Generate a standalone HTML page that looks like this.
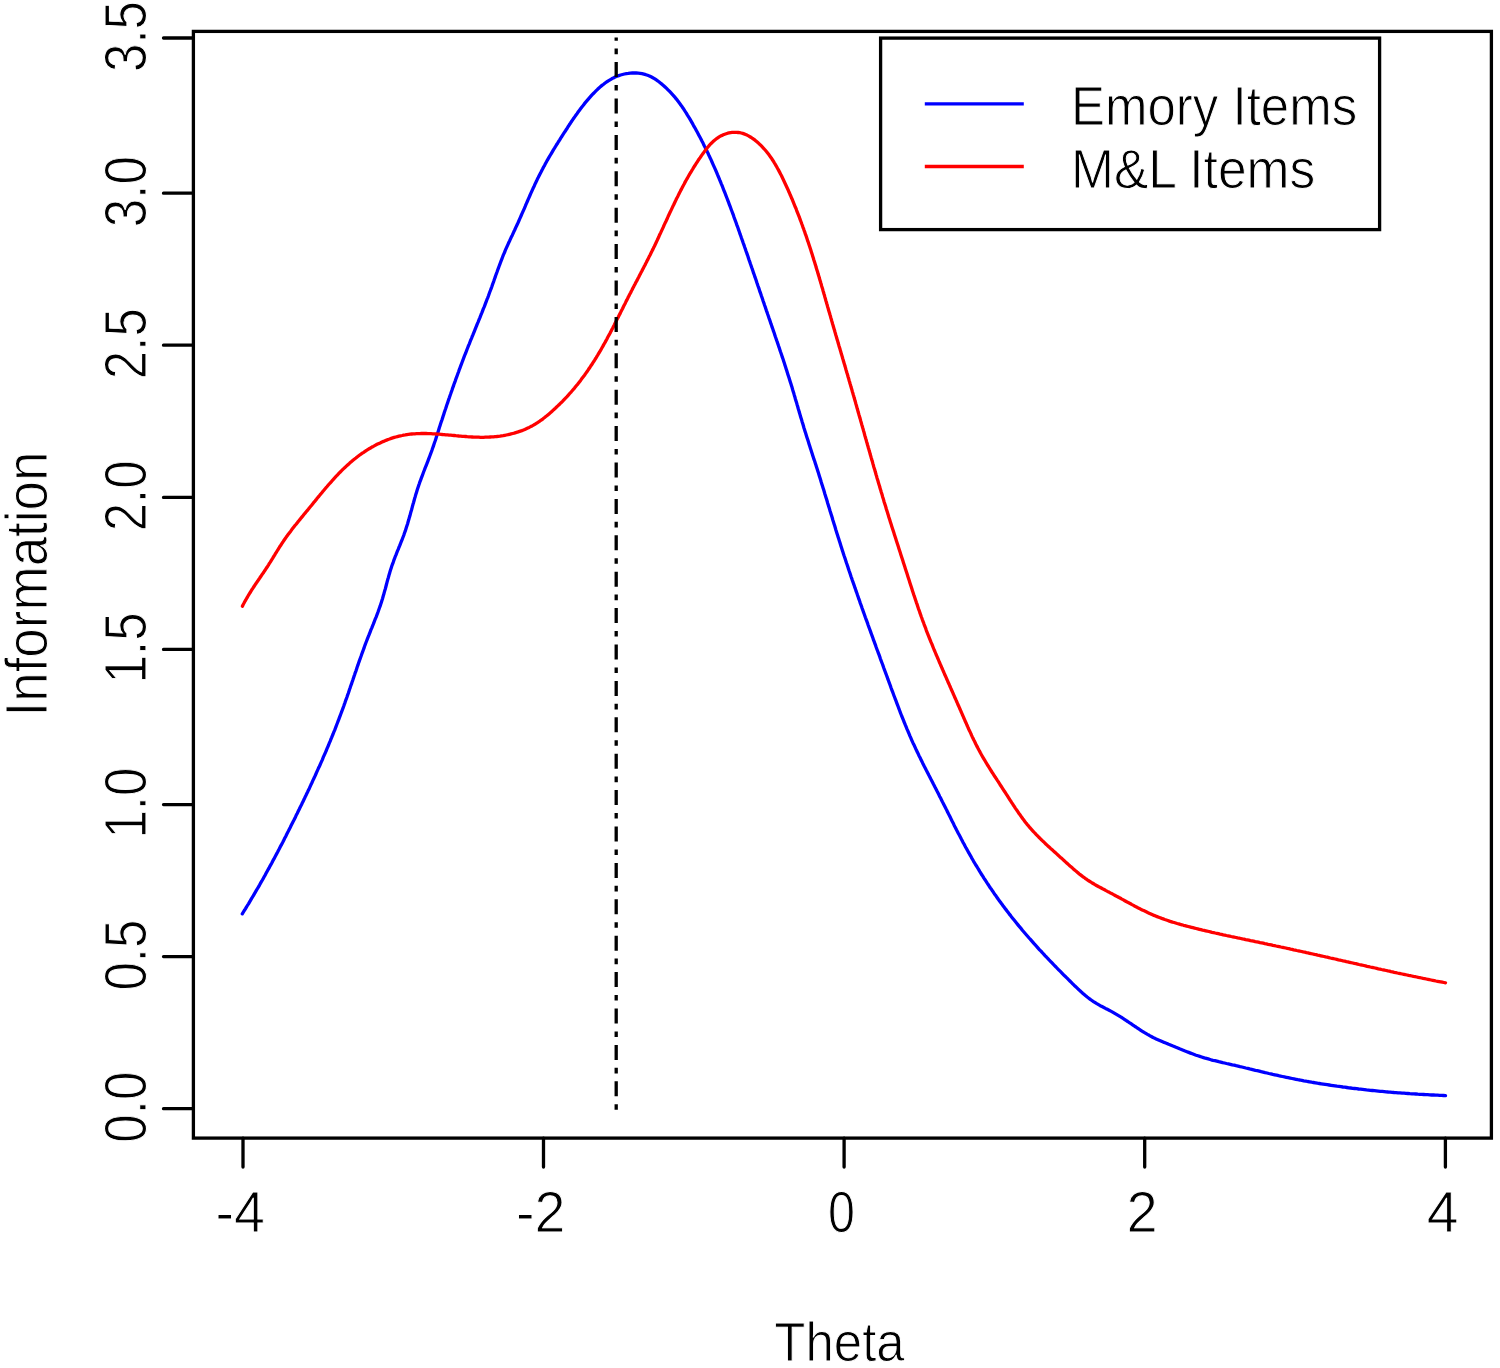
<!DOCTYPE html>
<html><head><meta charset="utf-8"><title>Information</title>
<style>
html,body{margin:0;padding:0;background:#fff;}
body{width:1500px;height:1368px;overflow:hidden;}
svg{display:block;}
text{font-family:"Liberation Sans",Arial,sans-serif;font-size:51px;fill:#000;stroke:#fff;stroke-width:0.9px;}
</style></head>
<body>
<svg width="1500" height="1368" viewBox="0 0 1500 1368">
<rect x="0" y="0" width="1500" height="1368" fill="#fff"/>
<g fill="none" stroke-linejoin="round" stroke-linecap="round">
<polyline points="242.3,913.8 243.3,912.2 244.3,910.5 245.4,908.8 246.4,907.1 247.4,905.5 248.5,903.8 249.5,902.1 250.5,900.4 251.5,898.7 252.5,897.0 253.5,895.3 254.5,893.6 255.5,891.9 256.5,890.2 257.5,888.5 258.5,886.8 259.5,885.1 260.4,883.4 261.4,881.7 262.4,880.0 263.4,878.2 264.3,876.5 265.3,874.8 266.2,873.1 267.2,871.3 268.1,869.6 269.1,867.9 270.0,866.1 271.0,864.4 271.9,862.7 272.8,860.9 273.8,859.2 274.7,857.4 275.6,855.7 276.6,853.9 277.5,852.2 278.4,850.4 279.3,848.7 280.2,846.9 281.2,845.2 282.1,843.4 283.0,841.7 283.9,839.9 284.8,838.1 285.7,836.4 286.6,834.6 287.5,832.8 288.4,831.1 289.3,829.3 290.2,827.5 291.0,825.8 291.9,824.0 292.8,822.2 293.7,820.5 294.6,818.7 295.5,816.9 296.3,815.1 297.2,813.4 298.1,811.6 299.0,809.8 299.8,808.0 300.7,806.2 301.6,804.5 302.4,802.7 303.3,800.9 304.2,799.1 305.0,797.3 305.9,795.5 306.7,793.8 307.6,792.0 308.4,790.2 309.3,788.4 310.1,786.6 310.9,784.8 311.8,783.0 312.6,781.2 313.4,779.4 314.3,777.6 315.1,775.8 315.9,774.0 316.7,772.2 317.5,770.4 318.3,768.6 319.2,766.8 320.0,765.0 320.8,763.2 321.6,761.4 322.4,759.6 323.1,757.7 323.9,755.9 324.7,754.1 325.5,752.3 326.3,750.5 327.0,748.7 327.8,746.8 328.6,745.0 329.3,743.2 330.1,741.4 330.8,739.5 331.6,737.7 332.3,735.9 333.1,734.0 333.8,732.2 334.6,730.4 335.3,728.5 336.0,726.7 336.7,724.8 337.4,723.0 338.1,721.1 338.8,719.3 339.5,717.4 340.2,715.6 340.9,713.7 341.6,711.9 342.3,710.0 343.0,708.2 343.7,706.3 344.3,704.4 345.0,702.6 345.6,700.7 346.3,698.9 347.0,697.0 347.6,695.1 348.3,693.2 348.9,691.4 349.5,689.5 350.2,687.6 350.8,685.8 351.5,683.9 352.1,682.0 352.8,680.1 353.4,678.3 354.0,676.4 354.7,674.5 355.3,672.6 356.0,670.8 356.6,668.9 357.2,667.0 357.9,665.2 358.5,663.3 359.2,661.4 359.8,659.6 360.5,657.7 361.2,655.8 361.8,654.0 362.5,652.1 363.2,650.2 363.9,648.4 364.5,646.5 365.2,644.7 365.9,642.8 366.6,641.0 367.3,639.1 368.0,637.3 368.8,635.4 369.5,633.6 370.2,631.8 370.9,629.9 371.7,628.1 372.4,626.3 373.2,624.4 373.9,622.6 374.6,620.7 375.3,618.9 376.1,617.1 376.8,615.2 377.5,613.4 378.2,611.5 378.8,609.7 379.5,607.8 380.2,605.9 380.8,604.1 381.4,602.2 382.0,600.3 382.6,598.4 383.1,596.5 383.7,594.6 384.2,592.7 384.7,590.8 385.3,588.9 385.8,587.0 386.3,585.0 386.8,583.1 387.3,581.2 387.8,579.3 388.4,577.4 388.9,575.5 389.5,573.6 390.0,571.7 390.6,569.8 391.2,567.9 391.8,566.0 392.5,564.1 393.2,562.3 393.8,560.4 394.5,558.6 395.2,556.7 396.0,554.9 396.7,553.0 397.4,551.2 398.2,549.4 398.9,547.5 399.7,545.7 400.4,543.9 401.1,542.0 401.9,540.2 402.6,538.3 403.3,536.5 404.0,534.6 404.6,532.8 405.3,530.9 405.9,529.0 406.5,527.1 407.1,525.3 407.7,523.4 408.2,521.5 408.8,519.6 409.3,517.7 409.9,515.8 410.4,513.9 410.9,511.9 411.5,510.0 412.0,508.1 412.5,506.2 413.0,504.3 413.6,502.4 414.1,500.5 414.6,498.6 415.2,496.7 415.7,494.8 416.3,492.9 416.9,491.0 417.5,489.1 418.1,487.2 418.7,485.4 419.4,483.5 420.0,481.6 420.7,479.8 421.4,477.9 422.1,476.1 422.8,474.2 423.5,472.3 424.2,470.5 424.9,468.7 425.6,466.8 426.4,465.0 427.1,463.1 427.8,461.3 428.5,459.4 429.2,457.6 429.9,455.7 430.6,453.9 431.3,452.0 432.0,450.1 432.6,448.3 433.3,446.4 433.9,444.5 434.5,442.7 435.2,440.8 435.8,438.9 436.4,437.0 437.0,435.1 437.6,433.3 438.2,431.4 438.8,429.5 439.4,427.6 440.0,425.7 440.6,423.8 441.2,421.9 441.9,420.1 442.5,418.2 443.1,416.3 443.7,414.4 444.3,412.6 444.9,410.7 445.6,408.8 446.2,406.9 446.8,405.0 447.5,403.2 448.1,401.3 448.7,399.4 449.4,397.6 450.0,395.7 450.7,393.8 451.3,392.0 452.0,390.1 452.6,388.2 453.3,386.4 453.9,384.5 454.6,382.6 455.3,380.8 455.9,378.9 456.6,377.1 457.3,375.2 458.0,373.3 458.7,371.5 459.3,369.6 460.0,367.8 460.7,365.9 461.4,364.1 462.1,362.2 462.8,360.4 463.5,358.5 464.2,356.7 464.9,354.8 465.7,353.0 466.4,351.2 467.1,349.3 467.8,347.5 468.5,345.6 469.3,343.8 470.0,342.0 470.7,340.1 471.5,338.3 472.2,336.5 473.0,334.6 473.7,332.8 474.5,331.0 475.2,329.1 475.9,327.3 476.7,325.5 477.4,323.6 478.2,321.8 478.9,320.0 479.7,318.1 480.4,316.3 481.1,314.5 481.9,312.6 482.6,310.8 483.3,308.9 484.1,307.1 484.8,305.3 485.5,303.4 486.2,301.6 486.9,299.7 487.7,297.9 488.4,296.0 489.0,294.2 489.7,292.3 490.4,290.5 491.1,288.6 491.8,286.7 492.4,284.9 493.1,283.0 493.8,281.1 494.4,279.3 495.1,277.4 495.7,275.5 496.4,273.7 497.1,271.8 497.7,270.0 498.4,268.1 499.1,266.2 499.8,264.4 500.5,262.5 501.2,260.7 501.9,258.9 502.6,257.0 503.3,255.2 504.1,253.4 504.9,251.5 505.6,249.7 506.4,247.9 507.2,246.1 508.0,244.3 508.8,242.5 509.7,240.7 510.5,238.9 511.3,237.1 512.2,235.4 513.0,233.6 513.8,231.8 514.7,230.0 515.5,228.2 516.3,226.4 517.2,224.6 518.0,222.8 518.8,221.0 519.6,219.2 520.4,217.4 521.2,215.5 522.0,213.7 522.8,211.9 523.6,210.1 524.4,208.3 525.2,206.4 525.9,204.6 526.7,202.8 527.5,201.0 528.3,199.2 529.1,197.3 529.9,195.5 530.7,193.7 531.5,191.9 532.3,190.1 533.1,188.3 534.0,186.5 534.8,184.7 535.6,182.9 536.5,181.1 537.3,179.3 538.2,177.6 539.1,175.8 540.0,174.0 540.9,172.3 541.8,170.5 542.7,168.8 543.6,167.0 544.6,165.3 545.5,163.6 546.5,161.8 547.4,160.1 548.4,158.4 549.4,156.7 550.4,155.0 551.4,153.3 552.4,151.6 553.4,149.9 554.5,148.2 555.5,146.5 556.5,144.8 557.6,143.2 558.6,141.5 559.7,139.8 560.7,138.1 561.8,136.5 562.8,134.8 563.9,133.1 565.0,131.5 566.1,129.8 567.2,128.2 568.2,126.5 569.3,124.8 570.4,123.2 571.5,121.5 572.6,119.9 573.7,118.3 574.9,116.6 576.0,115.0 577.2,113.4 578.3,111.8 579.5,110.2 580.7,108.6 581.9,107.0 583.1,105.5 584.3,103.9 585.5,102.4 586.8,100.9 588.1,99.4 589.4,97.9 590.7,96.4 592.0,94.9 593.4,93.5 594.8,92.1 596.2,90.7 597.6,89.3 599.0,88.0 600.5,86.6 602.0,85.4 603.6,84.2 605.1,83.0 606.7,81.9 608.3,80.8 610.0,79.8 611.7,78.8 613.4,77.9 615.1,77.1 616.9,76.3 618.8,75.6 620.6,75.0 622.5,74.5 624.4,74.0 626.4,73.6 628.3,73.4 630.3,73.1 632.3,73.0 634.3,73.0 636.2,73.0 638.2,73.2 640.1,73.4 642.0,73.7 643.9,74.2 645.8,74.7 647.6,75.3 649.4,76.0 651.1,76.8 652.8,77.7 654.4,78.6 656.0,79.7 657.6,80.8 659.2,82.0 660.7,83.2 662.2,84.4 663.7,85.7 665.1,87.0 666.6,88.4 668.0,89.8 669.4,91.2 670.8,92.7 672.1,94.1 673.5,95.6 674.8,97.1 676.0,98.7 677.3,100.2 678.5,101.8 679.7,103.4 680.8,105.0 682.0,106.6 683.1,108.2 684.2,109.9 685.2,111.5 686.3,113.2 687.3,114.9 688.4,116.6 689.4,118.2 690.4,119.9 691.4,121.6 692.4,123.4 693.3,125.1 694.3,126.8 695.3,128.5 696.2,130.2 697.2,132.0 698.1,133.7 699.0,135.4 700.0,137.2 700.9,138.9 701.8,140.7 702.7,142.4 703.5,144.2 704.4,146.0 705.3,147.7 706.2,149.5 707.0,151.3 707.9,153.0 708.7,154.8 709.5,156.6 710.4,158.4 711.2,160.2 712.0,162.0 712.8,163.8 713.6,165.6 714.4,167.4 715.2,169.2 716.0,171.0 716.8,172.9 717.5,174.7 718.3,176.5 719.1,178.3 719.8,180.1 720.6,182.0 721.3,183.8 722.1,185.6 722.8,187.5 723.5,189.3 724.2,191.2 725.0,193.0 725.7,194.8 726.4,196.7 727.1,198.5 727.8,200.4 728.5,202.2 729.2,204.1 729.9,205.9 730.6,207.8 731.3,209.7 732.0,211.5 732.7,213.4 733.4,215.2 734.0,217.1 734.7,219.0 735.4,220.8 736.1,222.7 736.7,224.6 737.4,226.4 738.1,228.3 738.7,230.2 739.4,232.0 740.0,233.9 740.7,235.8 741.3,237.6 742.0,239.5 742.7,241.4 743.3,243.2 744.0,245.1 744.6,247.0 745.3,248.8 745.9,250.7 746.6,252.6 747.2,254.4 747.9,256.3 748.5,258.2 749.1,260.1 749.8,261.9 750.4,263.8 751.1,265.7 751.7,267.5 752.4,269.4 753.0,271.3 753.6,273.2 754.3,275.0 754.9,276.9 755.6,278.8 756.2,280.6 756.8,282.5 757.5,284.4 758.1,286.2 758.8,288.1 759.4,290.0 760.0,291.9 760.7,293.7 761.3,295.6 762.0,297.5 762.6,299.3 763.2,301.2 763.9,303.1 764.5,305.0 765.2,306.8 765.8,308.7 766.4,310.6 767.1,312.4 767.7,314.3 768.4,316.2 769.0,318.1 769.7,319.9 770.3,321.8 770.9,323.7 771.6,325.5 772.2,327.4 772.9,329.3 773.5,331.2 774.2,333.0 774.8,334.9 775.4,336.8 776.1,338.7 776.7,340.5 777.4,342.4 778.0,344.3 778.6,346.1 779.3,348.0 779.9,349.9 780.5,351.8 781.2,353.7 781.8,355.5 782.4,357.4 783.1,359.3 783.7,361.2 784.3,363.0 784.9,364.9 785.5,366.8 786.1,368.7 786.7,370.6 787.3,372.5 787.9,374.4 788.5,376.2 789.1,378.1 789.7,380.0 790.3,381.9 790.9,383.8 791.5,385.7 792.1,387.6 792.6,389.5 793.2,391.4 793.8,393.3 794.3,395.2 794.9,397.1 795.4,399.0 796.0,400.9 796.6,402.8 797.1,404.7 797.7,406.6 798.2,408.5 798.8,410.4 799.3,412.3 799.9,414.2 800.4,416.1 801.0,418.0 801.6,419.8 802.1,421.7 802.7,423.6 803.3,425.5 803.8,427.4 804.4,429.3 805.0,431.2 805.6,433.1 806.2,435.0 806.8,436.9 807.4,438.7 808.0,440.6 808.6,442.5 809.2,444.4 809.8,446.3 810.4,448.2 811.0,450.0 811.6,451.9 812.2,453.8 812.8,455.7 813.4,457.5 814.0,459.4 814.7,461.3 815.3,463.2 815.9,465.1 816.5,467.0 817.1,468.8 817.7,470.7 818.3,472.6 818.9,474.5 819.5,476.4 820.1,478.3 820.7,480.2 821.2,482.0 821.8,483.9 822.4,485.8 823.0,487.7 823.6,489.6 824.2,491.5 824.7,493.4 825.3,495.3 825.9,497.2 826.5,499.1 827.1,501.0 827.6,502.9 828.2,504.8 828.8,506.7 829.4,508.6 829.9,510.4 830.5,512.3 831.1,514.2 831.7,516.1 832.3,518.0 832.8,519.9 833.4,521.8 834.0,523.7 834.6,525.6 835.2,527.5 835.7,529.4 836.3,531.3 836.9,533.2 837.5,535.1 838.1,537.0 838.7,538.8 839.3,540.7 839.9,542.6 840.5,544.5 841.1,546.4 841.7,548.3 842.3,550.2 842.9,552.0 843.5,553.9 844.1,555.8 844.8,557.7 845.4,559.6 846.0,561.4 846.6,563.3 847.3,565.2 847.9,567.1 848.5,569.0 849.1,570.8 849.8,572.7 850.4,574.6 851.0,576.5 851.7,578.3 852.3,580.2 853.0,582.1 853.6,583.9 854.3,585.8 854.9,587.7 855.6,589.5 856.2,591.4 856.9,593.3 857.5,595.1 858.2,597.0 858.8,598.9 859.5,600.7 860.1,602.6 860.8,604.5 861.5,606.3 862.1,608.2 862.8,610.1 863.4,611.9 864.1,613.8 864.8,615.7 865.4,617.5 866.1,619.4 866.8,621.2 867.5,623.1 868.1,625.0 868.8,626.8 869.5,628.7 870.2,630.6 870.8,632.4 871.5,634.3 872.2,636.1 872.9,638.0 873.5,639.9 874.2,641.7 874.9,643.6 875.6,645.4 876.2,647.3 876.9,649.2 877.6,651.0 878.3,652.9 879.0,654.7 879.7,656.6 880.3,658.5 881.0,660.3 881.7,662.2 882.4,664.0 883.1,665.9 883.7,667.7 884.4,669.6 885.1,671.5 885.8,673.3 886.5,675.2 887.2,677.1 887.8,678.9 888.5,680.8 889.2,682.6 889.9,684.5 890.6,686.4 891.2,688.2 891.9,690.1 892.6,691.9 893.3,693.8 894.0,695.7 894.7,697.5 895.4,699.4 896.1,701.2 896.8,703.1 897.5,704.9 898.2,706.8 898.9,708.6 899.6,710.5 900.3,712.3 901.0,714.2 901.7,716.0 902.5,717.9 903.2,719.7 903.9,721.5 904.7,723.4 905.4,725.2 906.2,727.0 906.9,728.9 907.7,730.7 908.5,732.5 909.3,734.3 910.0,736.1 910.8,737.9 911.6,739.8 912.4,741.6 913.2,743.4 914.1,745.1 914.9,746.9 915.7,748.7 916.6,750.5 917.4,752.3 918.3,754.1 919.1,755.9 920.0,757.6 920.9,759.4 921.8,761.2 922.6,762.9 923.5,764.7 924.4,766.5 925.3,768.2 926.2,770.0 927.1,771.7 928.0,773.5 928.9,775.3 929.8,777.0 930.7,778.8 931.6,780.5 932.5,782.3 933.4,784.1 934.3,785.8 935.2,787.6 936.1,789.3 937.0,791.1 937.9,792.8 938.8,794.6 939.7,796.4 940.6,798.1 941.5,799.9 942.4,801.7 943.3,803.4 944.2,805.2 945.1,807.0 946.0,808.8 946.9,810.5 947.7,812.3 948.6,814.1 949.5,815.8 950.4,817.6 951.3,819.4 952.2,821.2 953.1,822.9 953.9,824.7 954.8,826.5 955.7,828.2 956.6,830.0 957.5,831.7 958.4,833.5 959.4,835.3 960.3,837.0 961.2,838.8 962.1,840.5 963.0,842.3 964.0,844.0 964.9,845.8 965.8,847.5 966.8,849.2 967.8,851.0 968.7,852.7 969.7,854.4 970.7,856.1 971.6,857.8 972.6,859.5 973.6,861.3 974.6,863.0 975.6,864.7 976.7,866.3 977.7,868.0 978.7,869.7 979.7,871.4 980.8,873.1 981.8,874.8 982.9,876.4 983.9,878.1 985.0,879.7 986.1,881.4 987.2,883.1 988.3,884.7 989.3,886.3 990.4,888.0 991.6,889.6 992.7,891.2 993.8,892.9 994.9,894.5 996.1,896.1 997.2,897.7 998.3,899.3 999.5,900.9 1000.7,902.5 1001.8,904.1 1003.0,905.7 1004.2,907.3 1005.4,908.9 1006.6,910.4 1007.8,912.0 1009.0,913.6 1010.2,915.1 1011.4,916.7 1012.6,918.2 1013.9,919.8 1015.1,921.3 1016.3,922.8 1017.6,924.4 1018.8,925.9 1020.1,927.4 1021.4,928.9 1022.6,930.5 1023.9,932.0 1025.2,933.5 1026.5,935.0 1027.8,936.5 1029.1,938.0 1030.4,939.4 1031.7,940.9 1033.0,942.4 1034.3,943.9 1035.7,945.4 1037.0,946.8 1038.3,948.3 1039.6,949.8 1041.0,951.2 1042.3,952.7 1043.7,954.1 1045.0,955.6 1046.4,957.0 1047.7,958.4 1049.1,959.9 1050.5,961.3 1051.8,962.7 1053.2,964.2 1054.6,965.6 1056.0,967.0 1057.3,968.4 1058.7,969.8 1060.1,971.2 1061.5,972.6 1062.9,974.1 1064.3,975.5 1065.7,976.8 1067.1,978.2 1068.5,979.6 1069.9,981.0 1071.3,982.4 1072.7,983.8 1074.1,985.2 1075.5,986.5 1077.0,987.9 1078.4,989.3 1079.8,990.6 1081.3,991.9 1082.7,993.2 1084.2,994.5 1085.7,995.8 1087.2,997.0 1088.8,998.2 1090.3,999.4 1091.9,1000.5 1093.5,1001.6 1095.2,1002.7 1096.8,1003.7 1098.5,1004.7 1100.2,1005.7 1102.0,1006.6 1103.8,1007.5 1105.5,1008.4 1107.3,1009.3 1109.1,1010.2 1110.8,1011.1 1112.6,1012.1 1114.3,1013.1 1116.0,1014.1 1117.7,1015.1 1119.4,1016.1 1121.1,1017.1 1122.7,1018.2 1124.4,1019.3 1126.0,1020.4 1127.7,1021.5 1129.3,1022.6 1131.0,1023.7 1132.6,1024.8 1134.2,1025.9 1135.9,1027.0 1137.5,1028.1 1139.1,1029.2 1140.8,1030.3 1142.4,1031.3 1144.1,1032.4 1145.8,1033.4 1147.5,1034.4 1149.2,1035.3 1150.9,1036.3 1152.6,1037.2 1154.3,1038.1 1156.1,1038.9 1157.9,1039.7 1159.7,1040.5 1161.5,1041.3 1163.3,1042.1 1165.1,1042.8 1166.9,1043.5 1168.7,1044.3 1170.5,1045.0 1172.4,1045.8 1174.2,1046.5 1176.0,1047.3 1177.8,1048.0 1179.6,1048.8 1181.4,1049.5 1183.2,1050.2 1185.1,1051.0 1186.9,1051.7 1188.7,1052.4 1190.5,1053.1 1192.4,1053.8 1194.2,1054.5 1196.1,1055.2 1197.9,1055.8 1199.8,1056.4 1201.6,1057.0 1203.5,1057.6 1205.4,1058.2 1207.3,1058.7 1209.2,1059.2 1211.1,1059.8 1213.0,1060.3 1214.9,1060.7 1216.8,1061.2 1218.8,1061.7 1220.7,1062.1 1222.6,1062.6 1224.5,1063.0 1226.5,1063.5 1228.4,1063.9 1230.3,1064.3 1232.3,1064.8 1234.2,1065.2 1236.1,1065.7 1238.1,1066.1 1240.0,1066.6 1241.9,1067.0 1243.9,1067.5 1245.8,1068.0 1247.7,1068.4 1249.6,1068.9 1251.6,1069.3 1253.5,1069.8 1255.4,1070.3 1257.3,1070.7 1259.3,1071.2 1261.2,1071.7 1263.1,1072.1 1265.1,1072.6 1267.0,1073.0 1268.9,1073.5 1270.8,1073.9 1272.8,1074.4 1274.7,1074.8 1276.6,1075.2 1278.6,1075.7 1280.5,1076.1 1282.4,1076.5 1284.4,1076.9 1286.3,1077.3 1288.2,1077.7 1290.2,1078.1 1292.1,1078.5 1294.1,1078.9 1296.0,1079.3 1297.9,1079.7 1299.9,1080.0 1301.8,1080.4 1303.8,1080.8 1305.7,1081.1 1307.7,1081.5 1309.6,1081.8 1311.6,1082.2 1313.5,1082.5 1315.5,1082.8 1317.4,1083.2 1319.4,1083.5 1321.3,1083.8 1323.3,1084.1 1325.2,1084.4 1327.2,1084.7 1329.2,1085.0 1331.1,1085.3 1333.1,1085.6 1335.0,1085.9 1337.0,1086.2 1339.0,1086.4 1340.9,1086.7 1342.9,1087.0 1344.8,1087.2 1346.8,1087.5 1348.8,1087.8 1350.7,1088.0 1352.7,1088.3 1354.7,1088.5 1356.6,1088.7 1358.6,1089.0 1360.6,1089.2 1362.5,1089.4 1364.5,1089.6 1366.5,1089.9 1368.5,1090.1 1370.4,1090.3 1372.4,1090.5 1374.4,1090.7 1376.3,1090.9 1378.3,1091.1 1380.3,1091.3 1382.3,1091.4 1384.2,1091.6 1386.2,1091.8 1388.2,1092.0 1390.1,1092.1 1392.1,1092.3 1394.1,1092.5 1396.1,1092.6 1398.0,1092.8 1400.0,1092.9 1402.0,1093.1 1404.0,1093.2 1405.9,1093.4 1407.9,1093.5 1409.9,1093.7 1411.9,1093.8 1413.9,1093.9 1415.8,1094.0 1417.8,1094.2 1419.8,1094.3 1421.8,1094.4 1423.7,1094.5 1425.7,1094.6 1427.7,1094.7 1429.7,1094.8 1431.7,1095.0 1433.6,1095.0 1435.6,1095.1 1437.6,1095.2 1439.6,1095.3 1441.5,1095.4 1443.5,1095.5 1445.5,1095.6" stroke="#0000ff" stroke-width="3.3"/>
<polyline points="242.4,606.2 243.1,604.7 243.9,603.3 244.7,601.8 245.5,600.4 246.3,599.0 247.1,597.6 247.9,596.2 248.7,594.8 249.6,593.4 250.5,592.0 251.3,590.6 252.2,589.2 253.1,587.9 254.0,586.5 254.9,585.1 255.8,583.8 256.7,582.4 257.7,581.1 258.6,579.7 259.5,578.4 260.4,577.0 261.3,575.7 262.2,574.3 263.2,573.0 264.1,571.6 265.0,570.3 265.9,568.9 266.8,567.5 267.7,566.2 268.6,564.8 269.4,563.4 270.3,562.1 271.2,560.7 272.0,559.3 272.9,557.9 273.7,556.5 274.6,555.1 275.4,553.7 276.3,552.3 277.1,551.0 278.0,549.6 278.9,548.2 279.7,546.8 280.6,545.5 281.5,544.1 282.4,542.7 283.3,541.4 284.2,540.0 285.1,538.7 286.0,537.4 287.0,536.1 287.9,534.8 288.9,533.5 289.9,532.2 290.9,530.9 291.8,529.6 292.8,528.3 293.8,527.0 294.8,525.7 295.9,524.5 296.9,523.2 297.9,521.9 298.9,520.7 300.0,519.4 301.0,518.1 302.0,516.9 303.1,515.6 304.1,514.3 305.1,513.1 306.2,511.8 307.2,510.6 308.3,509.3 309.3,508.0 310.3,506.8 311.4,505.5 312.4,504.2 313.4,502.9 314.5,501.7 315.5,500.4 316.6,499.1 317.6,497.8 318.6,496.6 319.7,495.3 320.7,494.0 321.8,492.8 322.8,491.5 323.9,490.2 324.9,489.0 326.0,487.7 327.1,486.5 328.1,485.3 329.2,484.0 330.3,482.8 331.4,481.6 332.5,480.3 333.6,479.1 334.7,477.9 335.8,476.7 336.9,475.5 338.0,474.4 339.1,473.2 340.3,472.0 341.4,470.9 342.6,469.7 343.7,468.6 344.9,467.5 346.1,466.4 347.3,465.3 348.5,464.2 349.7,463.1 350.9,462.1 352.1,461.0 353.3,460.0 354.6,459.0 355.9,458.0 357.1,457.0 358.4,456.0 359.7,455.0 361.0,454.1 362.3,453.2 363.7,452.3 365.0,451.4 366.4,450.5 367.7,449.6 369.1,448.8 370.5,448.0 371.9,447.1 373.3,446.4 374.7,445.6 376.2,444.8 377.6,444.1 379.1,443.4 380.6,442.7 382.0,442.0 383.5,441.4 385.0,440.7 386.6,440.1 388.1,439.5 389.6,439.0 391.2,438.4 392.7,437.9 394.3,437.4 395.8,437.0 397.4,436.6 399.0,436.2 400.6,435.8 402.1,435.5 403.7,435.1 405.3,434.9 406.9,434.6 408.5,434.4 410.1,434.2 411.7,434.0 413.3,433.9 414.9,433.8 416.5,433.7 418.1,433.6 419.7,433.6 421.4,433.5 423.0,433.5 424.6,433.5 426.2,433.5 427.8,433.6 429.5,433.6 431.1,433.7 432.7,433.8 434.4,433.9 436.0,434.0 437.6,434.1 439.3,434.2 440.9,434.3 442.5,434.5 444.2,434.6 445.8,434.8 447.5,434.9 449.1,435.1 450.7,435.2 452.4,435.4 454.0,435.5 455.7,435.7 457.3,435.8 459.0,436.0 460.6,436.1 462.3,436.3 463.9,436.4 465.6,436.5 467.2,436.7 468.8,436.8 470.5,436.9 472.1,437.0 473.8,437.1 475.4,437.1 477.1,437.2 478.7,437.2 480.4,437.3 482.0,437.3 483.6,437.3 485.3,437.2 486.9,437.2 488.6,437.1 490.2,437.0 491.8,436.9 493.5,436.8 495.1,436.6 496.7,436.5 498.3,436.3 500.0,436.1 501.6,435.8 503.2,435.6 504.8,435.3 506.4,435.0 508.0,434.7 509.5,434.3 511.1,433.9 512.7,433.5 514.2,433.1 515.8,432.6 517.3,432.2 518.8,431.6 520.4,431.1 521.9,430.6 523.4,430.0 524.8,429.4 526.3,428.7 527.8,428.0 529.2,427.4 530.7,426.6 532.1,425.9 533.5,425.1 534.9,424.3 536.3,423.4 537.6,422.6 539.0,421.7 540.3,420.7 541.6,419.8 543.0,418.8 544.3,417.8 545.5,416.8 546.8,415.8 548.1,414.7 549.3,413.7 550.6,412.6 551.8,411.5 553.0,410.4 554.2,409.3 555.4,408.2 556.6,407.0 557.8,405.9 559.0,404.8 560.1,403.6 561.3,402.5 562.5,401.3 563.6,400.1 564.7,399.0 565.8,397.8 567.0,396.6 568.1,395.4 569.1,394.2 570.2,393.0 571.3,391.8 572.4,390.5 573.4,389.3 574.5,388.1 575.5,386.8 576.5,385.5 577.6,384.3 578.6,383.0 579.6,381.7 580.6,380.4 581.5,379.1 582.5,377.8 583.5,376.5 584.5,375.2 585.4,373.9 586.3,372.6 587.3,371.2 588.2,369.9 589.1,368.5 590.0,367.2 590.9,365.8 591.8,364.5 592.7,363.1 593.6,361.7 594.5,360.4 595.3,359.0 596.2,357.6 597.0,356.2 597.9,354.8 598.7,353.4 599.6,352.0 600.4,350.6 601.2,349.2 602.0,347.8 602.8,346.4 603.6,344.9 604.4,343.5 605.2,342.1 606.0,340.6 606.8,339.2 607.5,337.8 608.3,336.3 609.1,334.9 609.9,333.5 610.6,332.0 611.4,330.6 612.1,329.1 612.9,327.7 613.6,326.2 614.4,324.8 615.1,323.3 615.8,321.8 616.6,320.4 617.3,318.9 618.1,317.5 618.8,316.0 619.5,314.6 620.3,313.1 621.0,311.6 621.7,310.2 622.5,308.7 623.2,307.2 623.9,305.8 624.7,304.3 625.4,302.9 626.1,301.4 626.9,299.9 627.6,298.5 628.3,297.0 629.1,295.6 629.8,294.1 630.6,292.7 631.3,291.2 632.1,289.8 632.8,288.3 633.6,286.9 634.3,285.4 635.1,284.0 635.8,282.5 636.6,281.1 637.4,279.6 638.1,278.2 638.9,276.7 639.6,275.3 640.4,273.9 641.1,272.4 641.9,271.0 642.6,269.5 643.4,268.1 644.1,266.6 644.9,265.2 645.6,263.7 646.4,262.3 647.1,260.8 647.9,259.4 648.6,257.9 649.3,256.4 650.1,255.0 650.8,253.5 651.5,252.1 652.2,250.6 653.0,249.1 653.7,247.6 654.4,246.2 655.1,244.7 655.8,243.2 656.5,241.7 657.2,240.3 657.9,238.8 658.6,237.3 659.2,235.8 659.9,234.3 660.6,232.9 661.3,231.4 662.0,229.9 662.7,228.4 663.4,226.9 664.0,225.4 664.7,223.9 665.4,222.4 666.1,221.0 666.8,219.5 667.5,218.0 668.1,216.5 668.8,215.0 669.5,213.5 670.2,212.1 670.9,210.6 671.6,209.1 672.3,207.6 673.0,206.1 673.7,204.7 674.4,203.2 675.1,201.7 675.8,200.3 676.5,198.8 677.3,197.3 678.0,195.9 678.7,194.4 679.4,193.0 680.2,191.5 680.9,190.1 681.7,188.6 682.4,187.2 683.2,185.7 684.0,184.3 684.7,182.9 685.5,181.4 686.3,180.0 687.1,178.6 687.9,177.2 688.7,175.8 689.5,174.4 690.3,173.0 691.2,171.6 692.0,170.2 692.9,168.8 693.7,167.4 694.6,166.0 695.5,164.6 696.4,163.2 697.3,161.8 698.2,160.4 699.1,159.0 700.1,157.7 701.0,156.3 702.0,154.9 703.0,153.5 704.0,152.1 705.0,150.7 706.0,149.4 707.1,148.0 708.2,146.7 709.3,145.4 710.4,144.2 711.6,143.0 712.8,141.8 714.0,140.7 715.2,139.7 716.5,138.7 717.8,137.8 719.1,136.9 720.5,136.1 721.9,135.4 723.3,134.7 724.7,134.2 726.2,133.7 727.7,133.2 729.1,132.9 730.6,132.6 732.1,132.4 733.6,132.3 735.2,132.3 736.7,132.3 738.2,132.5 739.7,132.7 741.2,133.0 742.7,133.4 744.1,133.9 745.6,134.5 747.0,135.1 748.5,135.9 749.9,136.7 751.3,137.5 752.6,138.5 754.0,139.4 755.3,140.4 756.6,141.5 757.8,142.5 759.0,143.6 760.2,144.8 761.4,145.9 762.5,147.1 763.6,148.3 764.7,149.5 765.8,150.8 766.8,152.0 767.8,153.3 768.8,154.6 769.8,155.9 770.7,157.3 771.7,158.6 772.6,160.0 773.5,161.4 774.3,162.8 775.2,164.2 776.0,165.6 776.8,167.0 777.6,168.5 778.4,169.9 779.2,171.4 780.0,172.9 780.7,174.3 781.5,175.8 782.2,177.3 782.9,178.8 783.6,180.3 784.3,181.8 785.0,183.3 785.7,184.8 786.4,186.3 787.1,187.8 787.8,189.3 788.5,190.8 789.1,192.3 789.8,193.8 790.4,195.3 791.1,196.8 791.7,198.3 792.4,199.8 793.0,201.3 793.6,202.8 794.2,204.3 794.8,205.8 795.4,207.3 796.1,208.8 796.6,210.3 797.2,211.9 797.8,213.4 798.4,214.9 799.0,216.4 799.6,217.9 800.1,219.4 800.7,221.0 801.3,222.5 801.8,224.0 802.4,225.5 802.9,227.1 803.5,228.6 804.0,230.1 804.6,231.6 805.1,233.2 805.6,234.7 806.2,236.2 806.7,237.8 807.2,239.3 807.7,240.9 808.3,242.4 808.8,244.0 809.3,245.5 809.8,247.0 810.3,248.6 810.8,250.1 811.3,251.7 811.8,253.3 812.3,254.8 812.8,256.4 813.3,257.9 813.7,259.5 814.2,261.1 814.7,262.6 815.2,264.2 815.7,265.7 816.1,267.3 816.6,268.9 817.1,270.4 817.6,272.0 818.0,273.6 818.5,275.2 819.0,276.7 819.4,278.3 819.9,279.9 820.4,281.4 820.8,283.0 821.3,284.6 821.7,286.2 822.2,287.7 822.7,289.3 823.1,290.9 823.6,292.5 824.0,294.0 824.5,295.6 824.9,297.2 825.4,298.8 825.8,300.4 826.3,301.9 826.7,303.5 827.2,305.1 827.6,306.7 828.1,308.2 828.5,309.8 829.0,311.4 829.5,313.0 829.9,314.5 830.4,316.1 830.8,317.7 831.3,319.3 831.7,320.8 832.2,322.4 832.6,324.0 833.1,325.5 833.5,327.1 834.0,328.7 834.5,330.3 834.9,331.8 835.4,333.4 835.8,335.0 836.3,336.5 836.7,338.1 837.2,339.7 837.7,341.2 838.1,342.8 838.6,344.4 839.0,345.9 839.5,347.5 840.0,349.1 840.4,350.6 840.9,352.2 841.3,353.8 841.8,355.3 842.3,356.9 842.7,358.5 843.2,360.0 843.6,361.6 844.1,363.2 844.6,364.7 845.0,366.3 845.5,367.8 845.9,369.4 846.4,371.0 846.8,372.5 847.3,374.1 847.8,375.7 848.2,377.2 848.7,378.8 849.1,380.4 849.6,381.9 850.0,383.5 850.5,385.1 850.9,386.6 851.4,388.2 851.9,389.8 852.3,391.4 852.8,392.9 853.2,394.5 853.7,396.1 854.1,397.6 854.6,399.2 855.0,400.8 855.5,402.3 855.9,403.9 856.4,405.5 856.8,407.1 857.2,408.6 857.7,410.2 858.1,411.8 858.6,413.4 859.0,414.9 859.5,416.5 859.9,418.1 860.4,419.6 860.8,421.2 861.3,422.8 861.7,424.4 862.2,425.9 862.6,427.5 863.1,429.1 863.5,430.7 864.0,432.2 864.4,433.8 864.8,435.4 865.3,437.0 865.7,438.5 866.2,440.1 866.6,441.7 867.1,443.3 867.5,444.8 868.0,446.4 868.4,448.0 868.9,449.6 869.3,451.1 869.8,452.7 870.2,454.3 870.7,455.9 871.1,457.4 871.6,459.0 872.0,460.6 872.5,462.1 872.9,463.7 873.4,465.3 873.8,466.9 874.3,468.4 874.8,470.0 875.2,471.6 875.7,473.2 876.1,474.7 876.6,476.3 877.0,477.9 877.5,479.4 878.0,481.0 878.4,482.6 878.9,484.2 879.4,485.7 879.8,487.3 880.3,488.9 880.8,490.4 881.2,492.0 881.7,493.6 882.2,495.1 882.6,496.7 883.1,498.3 883.6,499.8 884.0,501.4 884.5,503.0 885.0,504.5 885.5,506.1 886.0,507.7 886.4,509.2 886.9,510.8 887.4,512.3 887.9,513.9 888.4,515.5 888.8,517.0 889.3,518.6 889.8,520.1 890.3,521.7 890.8,523.3 891.3,524.8 891.8,526.4 892.3,527.9 892.8,529.5 893.3,531.1 893.8,532.6 894.3,534.2 894.8,535.7 895.3,537.3 895.8,538.8 896.3,540.4 896.8,541.9 897.3,543.5 897.8,545.1 898.3,546.6 898.8,548.2 899.3,549.7 899.8,551.3 900.3,552.8 900.8,554.4 901.3,555.9 901.8,557.5 902.3,559.0 902.8,560.6 903.3,562.2 903.8,563.7 904.3,565.3 904.8,566.8 905.3,568.4 905.8,569.9 906.3,571.5 906.8,573.0 907.3,574.6 907.8,576.2 908.3,577.7 908.8,579.3 909.3,580.8 909.8,582.4 910.3,583.9 910.8,585.5 911.3,587.0 911.8,588.6 912.3,590.2 912.8,591.7 913.3,593.3 913.8,594.8 914.4,596.4 914.9,597.9 915.4,599.5 915.9,601.0 916.4,602.6 917.0,604.1 917.5,605.7 918.0,607.2 918.5,608.8 919.1,610.3 919.6,611.8 920.1,613.4 920.7,614.9 921.2,616.5 921.8,618.0 922.3,619.5 922.9,621.1 923.5,622.6 924.0,624.1 924.6,625.7 925.2,627.2 925.8,628.7 926.3,630.3 926.9,631.8 927.5,633.3 928.1,634.8 928.7,636.3 929.3,637.9 929.9,639.4 930.5,640.9 931.1,642.4 931.8,643.9 932.4,645.4 933.0,647.0 933.6,648.5 934.2,650.0 934.9,651.5 935.5,653.0 936.1,654.5 936.8,656.0 937.4,657.5 938.1,659.0 938.7,660.5 939.3,662.0 940.0,663.5 940.6,665.0 941.3,666.5 941.9,668.0 942.6,669.5 943.2,671.0 943.9,672.5 944.5,674.0 945.2,675.5 945.9,677.0 946.5,678.5 947.2,680.0 947.8,681.5 948.5,683.0 949.2,684.5 949.8,686.0 950.5,687.5 951.1,689.0 951.8,690.5 952.5,692.0 953.1,693.5 953.8,695.0 954.4,696.5 955.1,698.0 955.8,699.5 956.4,701.0 957.1,702.5 957.7,704.0 958.4,705.5 959.1,707.0 959.7,708.5 960.4,710.0 961.0,711.5 961.7,713.0 962.3,714.5 963.0,716.0 963.6,717.5 964.3,719.0 964.9,720.5 965.6,722.0 966.3,723.5 966.9,725.0 967.6,726.5 968.2,728.0 968.9,729.5 969.6,730.9 970.3,732.4 971.0,733.9 971.6,735.4 972.3,736.9 973.0,738.3 973.7,739.8 974.5,741.3 975.2,742.7 975.9,744.2 976.6,745.6 977.4,747.1 978.1,748.5 978.9,750.0 979.7,751.4 980.4,752.8 981.2,754.3 982.0,755.7 982.8,757.1 983.6,758.5 984.5,759.9 985.3,761.3 986.1,762.7 987.0,764.1 987.8,765.5 988.7,766.8 989.5,768.2 990.4,769.6 991.3,771.0 992.1,772.3 993.0,773.7 993.9,775.1 994.8,776.5 995.7,777.8 996.6,779.2 997.5,780.6 998.4,781.9 999.3,783.3 1000.1,784.7 1001.0,786.0 1001.9,787.4 1002.8,788.8 1003.7,790.2 1004.6,791.5 1005.5,792.9 1006.4,794.3 1007.3,795.7 1008.2,797.1 1009.0,798.4 1009.9,799.8 1010.8,801.2 1011.7,802.6 1012.6,803.9 1013.5,805.3 1014.4,806.7 1015.3,808.1 1016.2,809.4 1017.2,810.8 1018.1,812.1 1019.0,813.5 1020.0,814.8 1020.9,816.1 1021.9,817.5 1022.8,818.8 1023.8,820.1 1024.8,821.4 1025.8,822.7 1026.8,823.9 1027.8,825.2 1028.9,826.4 1029.9,827.7 1031.0,828.9 1032.1,830.1 1033.2,831.3 1034.3,832.5 1035.4,833.7 1036.5,834.9 1037.7,836.0 1038.8,837.2 1040.0,838.3 1041.1,839.5 1042.3,840.6 1043.5,841.7 1044.7,842.9 1045.8,844.0 1047.0,845.1 1048.2,846.2 1049.4,847.3 1050.6,848.4 1051.9,849.5 1053.1,850.6 1054.3,851.7 1055.5,852.8 1056.7,853.9 1057.9,855.0 1059.1,856.1 1060.3,857.2 1061.6,858.3 1062.8,859.4 1064.0,860.5 1065.2,861.6 1066.4,862.7 1067.6,863.8 1068.8,864.9 1070.0,866.0 1071.3,867.1 1072.5,868.1 1073.7,869.2 1074.9,870.3 1076.2,871.3 1077.4,872.4 1078.7,873.4 1079.9,874.4 1081.2,875.4 1082.5,876.4 1083.8,877.3 1085.1,878.3 1086.4,879.2 1087.7,880.1 1089.1,881.0 1090.5,881.9 1091.8,882.7 1093.2,883.5 1094.6,884.4 1096.0,885.2 1097.4,886.0 1098.8,886.8 1100.3,887.5 1101.7,888.3 1103.1,889.1 1104.6,889.8 1106.0,890.6 1107.5,891.4 1108.9,892.1 1110.3,892.9 1111.8,893.6 1113.2,894.4 1114.7,895.2 1116.1,896.0 1117.6,896.7 1119.0,897.5 1120.5,898.3 1121.9,899.1 1123.4,899.9 1124.8,900.7 1126.2,901.5 1127.7,902.3 1129.1,903.0 1130.6,903.8 1132.0,904.6 1133.5,905.4 1134.9,906.2 1136.4,906.9 1137.8,907.7 1139.3,908.4 1140.8,909.2 1142.2,909.9 1143.7,910.6 1145.2,911.3 1146.7,912.0 1148.1,912.7 1149.6,913.4 1151.1,914.1 1152.6,914.7 1154.1,915.4 1155.6,916.0 1157.1,916.6 1158.7,917.2 1160.2,917.8 1161.7,918.4 1163.2,918.9 1164.8,919.5 1166.3,920.0 1167.8,920.5 1169.4,921.1 1170.9,921.6 1172.5,922.1 1174.1,922.5 1175.6,923.0 1177.2,923.5 1178.7,923.9 1180.3,924.4 1181.9,924.8 1183.5,925.3 1185.0,925.7 1186.6,926.1 1188.2,926.5 1189.8,926.9 1191.4,927.3 1192.9,927.7 1194.5,928.1 1196.1,928.5 1197.7,928.9 1199.3,929.3 1200.9,929.7 1202.5,930.1 1204.1,930.4 1205.7,930.8 1207.3,931.2 1208.9,931.5 1210.4,931.9 1212.0,932.3 1213.6,932.6 1215.2,933.0 1216.8,933.3 1218.4,933.7 1220.0,934.1 1221.6,934.4 1223.2,934.8 1224.8,935.1 1226.4,935.5 1228.0,935.8 1229.6,936.1 1231.2,936.5 1232.8,936.8 1234.4,937.2 1236.0,937.5 1237.6,937.9 1239.2,938.2 1240.8,938.5 1242.4,938.9 1244.0,939.2 1245.6,939.6 1247.2,939.9 1248.8,940.2 1250.4,940.6 1252.0,940.9 1253.6,941.2 1255.2,941.6 1256.8,941.9 1258.4,942.2 1260.0,942.6 1261.6,942.9 1263.2,943.2 1264.8,943.6 1266.4,943.9 1268.1,944.3 1269.7,944.6 1271.3,944.9 1272.9,945.3 1274.5,945.6 1276.1,946.0 1277.7,946.3 1279.3,946.6 1280.9,947.0 1282.5,947.3 1284.1,947.7 1285.7,948.0 1287.3,948.4 1288.9,948.7 1290.5,949.1 1292.1,949.4 1293.6,949.8 1295.2,950.1 1296.8,950.5 1298.4,950.8 1300.0,951.2 1301.6,951.5 1303.2,951.9 1304.8,952.2 1306.4,952.6 1308.0,952.9 1309.6,953.3 1311.2,953.7 1312.8,954.0 1314.4,954.4 1316.0,954.7 1317.6,955.1 1319.2,955.4 1320.8,955.8 1322.4,956.2 1324.0,956.5 1325.6,956.9 1327.2,957.2 1328.8,957.6 1330.4,958.0 1332.0,958.3 1333.6,958.7 1335.2,959.0 1336.8,959.4 1338.4,959.8 1340.0,960.1 1341.6,960.5 1343.1,960.9 1344.7,961.2 1346.3,961.6 1347.9,961.9 1349.5,962.3 1351.1,962.7 1352.7,963.0 1354.3,963.4 1355.9,963.7 1357.5,964.1 1359.1,964.5 1360.7,964.8 1362.3,965.2 1363.9,965.5 1365.5,965.9 1367.1,966.3 1368.7,966.6 1370.3,967.0 1371.9,967.3 1373.5,967.7 1375.1,968.0 1376.7,968.4 1378.3,968.8 1379.9,969.1 1381.5,969.5 1383.1,969.8 1384.7,970.2 1386.3,970.5 1387.9,970.9 1389.5,971.2 1391.0,971.6 1392.6,971.9 1394.2,972.3 1395.8,972.6 1397.4,973.0 1399.0,973.3 1400.6,973.7 1402.2,974.0 1403.8,974.3 1405.4,974.7 1407.0,975.0 1408.6,975.4 1410.2,975.7 1411.8,976.0 1413.4,976.4 1415.1,976.7 1416.7,977.0 1418.3,977.4 1419.9,977.7 1421.5,978.0 1423.1,978.4 1424.7,978.7 1426.3,979.0 1427.9,979.3 1429.5,979.7 1431.1,980.0 1432.7,980.3 1434.3,980.6 1435.9,981.0 1437.5,981.3 1439.1,981.6 1440.7,981.9 1442.3,982.2 1443.9,982.5 1445.5,982.8" stroke="#ff0000" stroke-width="3.3"/>
<path d="M616.2,1109.8V37.5" stroke="#000" stroke-width="3.3" stroke-linecap="butt" stroke-dasharray="5.6 7.9 15 7.9"/>
</g>
<g fill="none" stroke="#000" stroke-width="3.3">
<rect x="193.4" y="31.4" width="1298.0" height="1106.7"/>
<path d="M163.5,1108.7H193.4M163.5,956.6H193.4M163.5,804.6H193.4M163.5,649.4H193.4M163.5,497.4H193.4M163.5,345.2H193.4M163.5,193.2H193.4M163.5,38.0H193.4M243.0,1138.1V1167M543.5,1138.1V1167M844.1,1138.1V1167M1144.7,1138.1V1167M1445.4,1138.1V1167" stroke-linecap="round"/>
<rect x="880.6" y="38.1" width="499" height="191.5" fill="#fff"/>
<path d="M924.8,103.9H1023.8" stroke="#0000ff"/>
<path d="M924.8,166.5H1023.8" stroke="#ff0000"/>
</g>
<text transform="translate(1071,125.3) scale(1,1.075)">Emory Items</text>
<text transform="translate(1071,188.3) scale(1.01,1.075)">M&amp;L Items</text>
<text transform="translate(145.6,1107.2) rotate(-90) scale(1,1.16)" text-anchor="middle">0.0</text>
<text transform="translate(145.6,955.1) rotate(-90) scale(1,1.16)" text-anchor="middle">0.5</text>
<text transform="translate(145.6,803.1) rotate(-90) scale(1,1.16)" text-anchor="middle">1.0</text>
<text transform="translate(145.6,647.9) rotate(-90) scale(1,1.16)" text-anchor="middle">1.5</text>
<text transform="translate(145.6,495.9) rotate(-90) scale(1,1.16)" text-anchor="middle">2.0</text>
<text transform="translate(145.6,343.7) rotate(-90) scale(1,1.16)" text-anchor="middle">2.5</text>
<text transform="translate(145.6,191.7) rotate(-90) scale(1,1.16)" text-anchor="middle">3.0</text>
<text transform="translate(145.6,36.5) rotate(-90) scale(1,1.16)" text-anchor="middle">3.5</text>
<text transform="translate(240.3,1231.8) scale(1.09,1.11)" text-anchor="middle">-4</text>
<text transform="translate(540.8,1231.8) scale(1.09,1.11)" text-anchor="middle">-2</text>
<text transform="translate(841.4,1231.8) scale(0.95,1.11)" text-anchor="middle">0</text>
<text transform="translate(1142.0,1231.8) scale(1.1,1.11)" text-anchor="middle">2</text>
<text transform="translate(1442.7,1231.8) scale(1.12,1.11)" text-anchor="middle">4</text>
<text transform="translate(839.5,1361) scale(1,1.08)" text-anchor="middle">Theta</text>
<text transform="translate(47,584) rotate(-90) scale(1,1.1)" text-anchor="middle" style="font-size:53px">Information</text>
</svg>
</body></html>
